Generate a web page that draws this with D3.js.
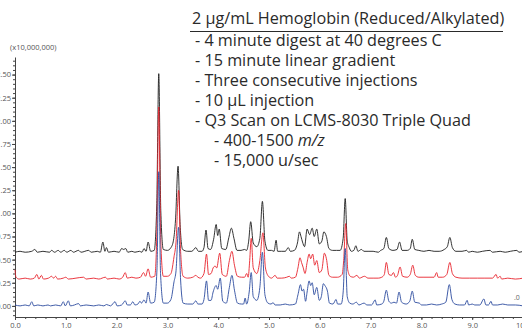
<!DOCTYPE html>
<html>
<head>
<meta charset="utf-8">
<script src="https://d3js.org/d3.v7.min.js"></script>
<style>
  body { margin: 0; background: #fff; }
  svg { display: block; }
  .tick text { font-family: "Open Sans", sans-serif; font-size: 7.5px; fill: #555; }
  .domain, .tick line { stroke: #444; }
  .note { font-family: "Open Sans", sans-serif; font-size: 16.2px; fill: #2a2a2a; }
</style>
</head>
<body>
<div id="chart"></div>
<script>
// chromatogram traces: [retention time (min), intensity above own baseline (x10,000,000)]
var blackTrace = [[0.00,0.00],[0.10,0.01],[0.20,0.00],[0.33,0.01],[0.39,0.03],[0.44,0.00],[0.55,0.01],[0.68,0.00],[0.72,0.02],[0.78,0.00],[0.85,0.02],[0.90,0.00],[0.97,0.02],[1.02,0.00],[1.10,0.02],[1.15,0.00],[1.25,0.02],[1.30,0.00],[1.45,0.02],[1.50,0.00],[1.62,0.01],[1.68,0.00],[1.73,0.11],[1.77,0.01],[1.80,0.05],[1.84,0.00],[1.95,0.01],[2.05,0.00],[2.10,0.04],[2.14,0.03],[2.18,0.04],[2.22,0.00],[2.30,0.01],[2.36,0.00],[2.45,0.01],[2.50,0.00],[2.54,0.04],[2.58,0.01],[2.62,0.11],[2.67,0.01],[2.74,0.02],[2.79,0.50],[2.83,1.93],[2.87,0.45],[2.92,0.03],[3.00,0.02],[3.07,0.05],[3.12,0.13],[3.16,0.35],[3.21,0.93],[3.25,0.30],[3.30,0.03],[3.40,0.01],[3.48,0.01],[3.56,0.05],[3.61,0.01],[3.68,0.01],[3.72,0.05],[3.76,0.24],[3.80,0.04],[3.85,0.03],[3.91,0.14],[3.96,0.30],[3.99,0.18],[4.02,0.25],[4.07,0.04],[4.15,0.03],[4.21,0.16],[4.26,0.26],[4.31,0.15],[4.37,0.02],[4.45,0.02],[4.52,0.03],[4.56,0.02],[4.60,0.12],[4.64,0.33],[4.69,0.10],[4.76,0.06],[4.82,0.15],[4.87,0.55],[4.92,0.12],[4.98,0.02],[5.05,0.02],[5.10,0.01],[5.14,0.13],[5.17,0.01],[5.25,0.01],[5.32,0.01],[5.38,0.05],[5.42,0.01],[5.50,0.02],[5.56,0.10],[5.60,0.22],[5.63,0.17],[5.66,0.11],[5.70,0.06],[5.75,0.25],[5.80,0.19],[5.85,0.26],[5.89,0.17],[5.94,0.25],[5.99,0.09],[6.04,0.12],[6.08,0.22],[6.13,0.17],[6.18,0.04],[6.25,0.02],[6.33,0.02],[6.40,0.02],[6.46,0.15],[6.50,0.58],[6.54,0.12],[6.58,0.05],[6.62,0.01],[6.67,0.02],[6.71,0.07],[6.75,0.01],[6.82,0.03],[6.87,0.01],[6.95,0.01],[7.05,0.01],[7.15,0.00],[7.20,0.02],[7.26,0.04],[7.31,0.16],[7.36,0.04],[7.44,0.02],[7.52,0.03],[7.57,0.11],[7.62,0.02],[7.72,0.02],[7.78,0.04],[7.82,0.14],[7.87,0.03],[7.95,0.02],[8.05,0.01],[8.15,0.02],[8.25,0.01],[8.35,0.01],[8.45,0.03],[8.51,0.06],[8.56,0.16],[8.61,0.05],[8.68,0.01],[8.80,0.01],[8.89,0.02],[8.93,0.00],[9.00,0.01],[9.10,0.00],[9.20,0.01],[9.35,0.02],[9.40,0.00],[9.55,0.01],[9.65,0.00],[9.75,0.01],[9.88,0.02],[9.92,0.00],[10.0,0.01]];

var redTrace = [[0.00,0.10],[0.02,0.02],[0.08,0.00],[0.20,0.01],[0.30,0.00],[0.38,0.01],[0.43,0.05],[0.47,0.00],[0.52,0.04],[0.56,0.00],[0.66,0.01],[0.72,0.03],[0.76,0.01],[0.80,0.03],[0.84,0.00],[0.95,0.01],[1.00,0.02],[1.05,0.00],[1.20,0.01],[1.35,0.02],[1.40,0.00],[1.55,0.01],[1.65,0.00],[1.78,0.02],[1.82,0.00],[1.95,0.01],[2.05,0.00],[2.12,0.02],[2.17,0.07],[2.21,0.01],[2.30,0.02],[2.38,0.01],[2.47,0.02],[2.53,0.07],[2.57,0.03],[2.62,0.11],[2.67,0.02],[2.75,0.03],[2.79,0.45],[2.83,1.86],[2.87,0.40],[2.92,0.03],[3.00,0.03],[3.07,0.06],[3.13,0.24],[3.17,0.40],[3.22,0.96],[3.26,0.30],[3.31,0.03],[3.40,0.01],[3.50,0.02],[3.56,0.04],[3.60,0.02],[3.65,0.01],[3.72,0.06],[3.77,0.27],[3.81,0.05],[3.86,0.06],[3.90,0.12],[3.94,0.14],[3.97,0.12],[4.03,0.28],[4.08,0.05],[4.16,0.03],[4.22,0.20],[4.27,0.30],[4.32,0.15],[4.38,0.03],[4.46,0.02],[4.52,0.02],[4.56,0.06],[4.59,0.02],[4.62,0.20],[4.65,0.44],[4.69,0.12],[4.76,0.06],[4.82,0.20],[4.88,0.50],[4.93,0.12],[4.99,0.03],[5.05,0.01],[5.12,0.04],[5.16,0.01],[5.25,0.01],[5.35,0.02],[5.40,0.03],[5.44,0.01],[5.52,0.02],[5.57,0.12],[5.61,0.23],[5.64,0.18],[5.67,0.13],[5.71,0.06],[5.75,0.18],[5.79,0.27],[5.82,0.22],[5.86,0.27],[5.90,0.15],[5.94,0.20],[5.99,0.07],[6.04,0.10],[6.09,0.28],[6.13,0.22],[6.18,0.04],[6.25,0.02],[6.35,0.02],[6.44,0.05],[6.47,0.20],[6.51,0.60],[6.55,0.10],[6.60,0.03],[6.66,0.02],[6.73,0.04],[6.78,0.01],[6.88,0.03],[6.95,0.01],[7.05,0.01],[7.15,0.01],[7.22,0.02],[7.27,0.05],[7.31,0.18],[7.36,0.05],[7.41,0.04],[7.45,0.07],[7.49,0.02],[7.53,0.04],[7.58,0.13],[7.63,0.03],[7.72,0.02],[7.78,0.05],[7.83,0.15],[7.88,0.04],[7.95,0.02],[8.05,0.02],[8.15,0.02],[8.25,0.02],[8.30,0.07],[8.33,0.02],[8.42,0.02],[8.50,0.05],[8.56,0.18],[8.61,0.06],[8.68,0.02],[8.80,0.01],[8.95,0.01],[9.10,0.01],[9.25,0.01],[9.40,0.01],[9.47,0.05],[9.50,0.01],[9.55,0.03],[9.58,0.00],[9.70,0.01],[9.85,0.00],[10.0,0.01]];

var blueTrace = [[0.00,0.01],[0.10,0.00],[0.20,0.01],[0.28,0.00],[0.33,0.045],[0.37,0.00],[0.45,0.01],[0.55,0.00],[0.65,0.01],[0.70,0.00],[0.80,0.01],[0.90,0.00],[0.95,0.045],[0.99,0.00],[1.05,0.055],[1.09,0.00],[1.17,0.01],[1.25,0.025],[1.29,0.00],[1.40,0.01],[1.55,0.00],[1.65,0.01],[1.75,0.00],[1.80,0.015],[1.88,0.00],[1.97,0.045],[2.01,0.00],[2.10,0.01],[2.17,0.055],[2.21,0.01],[2.27,0.01],[2.32,0.045],[2.36,0.01],[2.42,0.02],[2.46,0.05],[2.49,0.03],[2.54,0.065],[2.58,0.03],[2.62,0.15],[2.67,0.03],[2.74,0.04],[2.795,0.40],[2.83,1.45],[2.865,0.35],[2.92,0.03],[3.00,0.03],[3.07,0.07],[3.13,0.26],[3.17,0.38],[3.22,0.85],[3.26,0.28],[3.31,0.03],[3.40,0.02],[3.50,0.02],[3.56,0.055],[3.60,0.02],[3.68,0.02],[3.72,0.07],[3.77,0.27],[3.81,0.06],[3.86,0.06],[3.90,0.15],[3.96,0.22],[3.99,0.18],[4.04,0.30],[4.09,0.05],[4.16,0.03],[4.22,0.20],[4.27,0.33],[4.32,0.17],[4.38,0.03],[4.46,0.02],[4.50,0.02],[4.53,0.085],[4.56,0.02],[4.61,0.15],[4.65,0.36],[4.69,0.10],[4.76,0.06],[4.82,0.20],[4.87,0.58],[4.92,0.12],[4.98,0.03],[5.04,0.02],[5.08,0.035],[5.12,0.01],[5.22,0.01],[5.32,0.02],[5.40,0.01],[5.52,0.02],[5.57,0.12],[5.62,0.23],[5.65,0.16],[5.68,0.18],[5.72,0.05],[5.75,0.15],[5.79,0.27],[5.82,0.22],[5.85,0.25],[5.89,0.12],[5.94,0.20],[5.99,0.06],[6.03,0.10],[6.07,0.24],[6.10,0.22],[6.15,0.16],[6.19,0.03],[6.26,0.02],[6.32,0.07],[6.35,0.02],[6.42,0.02],[6.46,0.15],[6.50,0.62],[6.54,0.10],[6.59,0.03],[6.65,0.02],[6.72,0.04],[6.77,0.01],[6.87,0.03],[6.93,0.01],[7.02,0.01],[7.09,0.065],[7.12,0.01],[7.22,0.02],[7.26,0.05],[7.31,0.17],[7.36,0.05],[7.41,0.03],[7.46,0.04],[7.51,0.03],[7.56,0.15],[7.61,0.04],[7.70,0.02],[7.77,0.05],[7.82,0.16],[7.87,0.04],[7.96,0.03],[8.00,0.01],[8.10,0.01],[8.20,0.02],[8.30,0.01],[8.40,0.02],[8.48,0.04],[8.55,0.23],[8.60,0.07],[8.66,0.02],[8.75,0.01],[8.85,0.01],[8.90,0.06],[8.93,0.01],[9.00,0.02],[9.05,0.01],[9.15,0.01],[9.23,0.075],[9.27,0.01],[9.32,0.01],[9.37,0.05],[9.40,0.01],[9.50,0.01],[9.60,0.02],[9.70,0.01],[9.85,0.01],[10.0,0.00]];

// vertical offset of each injection in the stacked view
var traceOffsets = [0.58, 0.29, 0.00];
var traceColors = ["#1c1c1c", "#e8232b", "#2b4b9e"];

var xMajor = d3.range(0, 10.01, 1);
var xMinor = d3.range(0, 10.01, 0.2);
var yMajor = d3.range(0, 2.51, 0.25);
var yMinor = d3.range(-0.10, 2.66, 0.05);

var titleText = "2 \u03bcg/mL Hemoglobin (Reduced/Alkylated)";
var noteLines = [
  ["- 4 minute digest at 40 degrees C", 0],
  ["- 15 minute linear gradient", 0],
  ["- Three consecutive injections", 0],
  ["- 10 \u03bcL injection", 0],
  ["- Q3 Scan on LCMS-8030 Triple Quad", 0],
  ["- 400-1500 ", 1, "m/z"],
  ["- 15,000 u/sec", 1]
];

var W = 522, H = 331;
var svg = d3.select("#chart").append("svg")
  .attr("width", W).attr("height", H);

// scales
var x = d3.scaleLinear().domain([0, 10]).range([15, 523]);
var y = d3.scaleLinear().domain([-0.12, 2.69]).range([317, 57]);

// axes
svg.append("g")
  .attr("transform", "translate(15,0)")
  .call(d3.axisLeft(y).tickValues(yMinor).tickSize(2).tickFormat(""))
  .call(function(g) { g.select(".domain").remove(); });

svg.append("g")
  .attr("transform", "translate(15,0)")
  .call(d3.axisLeft(y).tickValues(yMajor).tickSize(3).tickSizeOuter(0).tickPadding(1).tickFormat(d3.format(".2f")));

svg.append("g")
  .attr("transform", "translate(0,317)")
  .call(d3.axisBottom(x).tickValues(xMinor).tickSize(2).tickFormat(""))
  .call(function(g) { g.select(".domain").remove(); });

svg.append("g")
  .attr("transform", "translate(0,317)")
  .call(d3.axisBottom(x).tickValues(xMajor).tickSize(3).tickSizeOuter(0).tickPadding(3).tickFormat(d3.format(".1f")));

svg.append("text")
  .attr("x", 10).attr("y", 50)
  .style("font-family", "Open Sans, sans-serif")
  .style("font-size", "7.5px").style("fill", "#555")
  .text("(x10,000,000)");

// leftover label of a neighbouring panel at the right edge
svg.append("text")
  .attr("x", 514).attr("y", 300)
  .style("font-family", "Open Sans, sans-serif")
  .style("font-size", "7px").style("fill", "#666")
  .text(".0");

// traces: black, red, then blue on top
var traces = [blackTrace, redTrace, blueTrace];
traces.forEach(function(tr, i) {
  var line = d3.line()
    .x(function(d) { return x(d[0]); })
    .y(function(d) { return y(d[1] + traceOffsets[i]); })
    .curve(d3.curveMonotoneX);
  svg.append("path")
    .datum(tr)
    .attr("fill", "none")
    .attr("stroke", traceColors[i])
    .attr("stroke-width", 0.9)
    .attr("stroke-linejoin", "round")
    .attr("d", line);
});

// annotation block
svg.append("text")
  .attr("class", "note")
  .attr("x", 192).attr("y", 24)
  .text(titleText);

svg.append("line")
  .attr("x1", 190).attr("x2", 503)
  .attr("y1", 31.5).attr("y2", 31.5)
  .attr("stroke", "#2a2a2a").attr("stroke-width", 1.2);

noteLines.forEach(function(l, i) {
  var t = svg.append("text")
    .attr("class", "note")
    .attr("x", l[1] ? 214 : 195)
    .attr("y", 46 + i * 20)
    .text(l[0]);
  if (l[2]) t.append("tspan").style("font-style", "italic").text(l[2]);
});
</script>
</body>
</html>
